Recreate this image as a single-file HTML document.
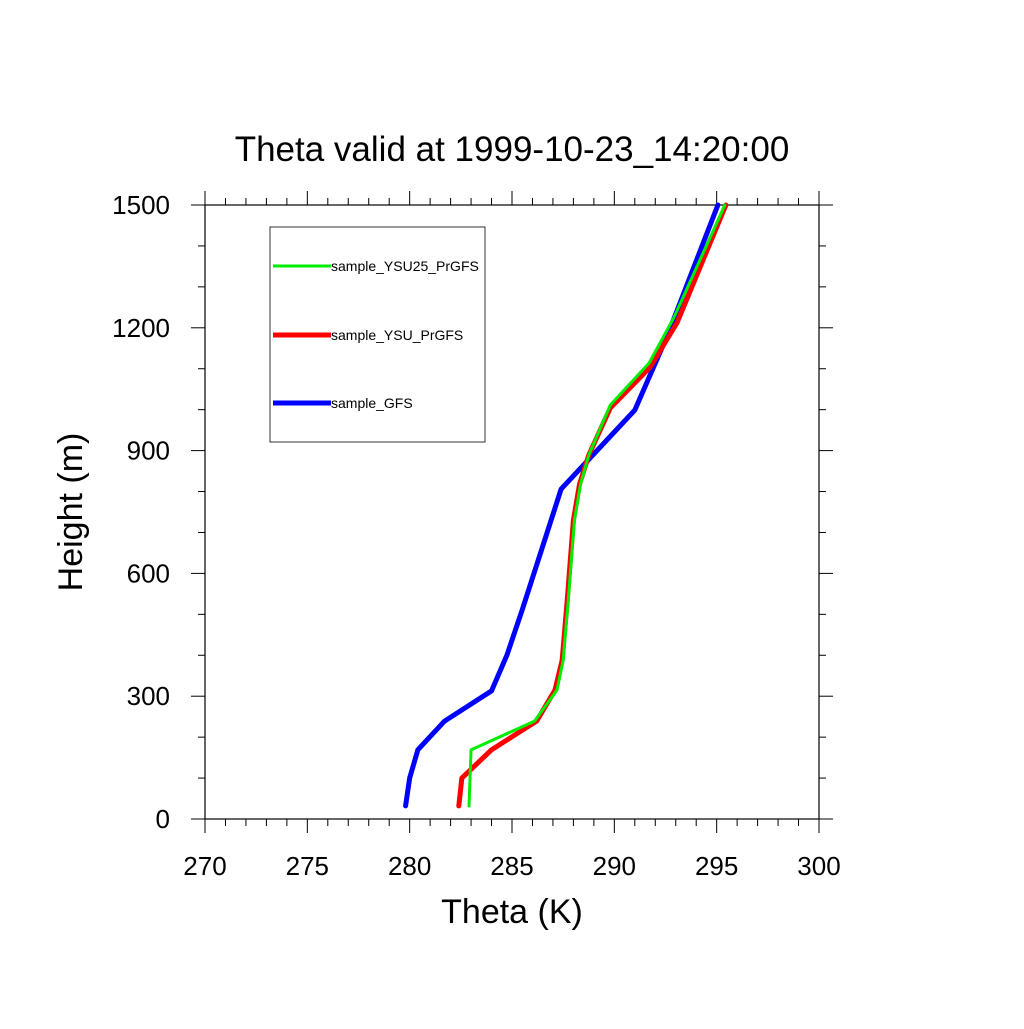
<!DOCTYPE html>
<html><head><meta charset="utf-8"><style>body{margin:0;background:#fff}svg text{font-family:"Liberation Sans",sans-serif}</style></head>
<body>
<svg id="c" width="1024" height="1024" xmlns="http://www.w3.org/2000/svg">
<text x="512" y="161" font-size="35" text-anchor="middle">Theta valid at 1999-10-23_14:20:00</text>
<rect x="205" y="205" width="614" height="614" fill="none" stroke="#000" stroke-width="1.2"/>
<g id="ticks"></g>
<g id="series"></g>
<text x="512" y="923" font-size="34" text-anchor="middle">Theta (K)</text>
<text transform="translate(82,512) rotate(-90)" font-size="34" text-anchor="middle">Height (m)</text>
<g>
<rect x="270" y="227" width="215" height="215" fill="#fff" stroke="#000" stroke-width="0.8"/>
<line x1="273" y1="266" x2="331" y2="266" stroke="#00ee00" stroke-width="3"/>
<text x="331" y="271" font-size="14">sample_YSU25_PrGFS</text>
<line x1="273" y1="335" x2="331" y2="335" stroke="#ff0000" stroke-width="5"/>
<text x="331" y="340" font-size="14">sample_YSU_PrGFS</text>
<line x1="273" y1="403" x2="331" y2="403" stroke="#0000ff" stroke-width="5"/>
<text x="331" y="408" font-size="14">sample_GFS</text>
</g>
</svg>
<script>
const xTicks=[270,275,280,285,290,295,300];
const yTicks=[0,300,600,900,1200,1500];
const gfsT=[279.8,280.0,280.4,281.7,284.0,284.75,285.5,287.4,291.0,292.6,295.06];
const gfsH=[32,100,169,239,313,400,511,806,999,1182,1500];
const ysuT=[282.4,282.55,284.0,286.2,287.1,287.45,287.7,288.0,288.3,288.75,289.8,291.75,293.06,295.45];
const ysuH=[32,100,169,239,315,388,535,730,818,889,1004,1104,1212,1500];
const ysu25T=[282.9,283.0,286.1,287.2,287.5,287.75,288.05,288.35,288.75,289.8,291.7,292.9,295.4];
const ysu25H=[32,169,239,315,388,535,730,818,889,1011,1114,1224,1500];
const NS="http://www.w3.org/2000/svg";
const sx=v=>205+(v-270)/30*614, sy=v=>819-v/1500*614;
const tg=document.getElementById('ticks');
function mk(t,a,p){const e=document.createElementNS(NS,t);for(const k in a)e.setAttribute(k,a[k]);p.appendChild(e);return e;}
for(let v=270;v<=300;v+=1){const x=sx(v);const maj=v%5===0;const l=maj?14:7;
const a=mk('line',{x1:x,x2:x,y1:819,y2:819+l,stroke:'#000','stroke-width':1},tg);


const b=mk('line',{x1:x,x2:x,y1:205,y2:205-l,stroke:'#000','stroke-width':1},tg);

}
xTicks.forEach(v=>{const t=mk('text',{x:sx(v),y:875,'font-size':26,'text-anchor':'middle'},tg);t.textContent=v;

});
for(let v=0;v<=1500;v+=100){const y=sy(v);const maj=v%300===0;const l=maj?14:7;
const a=mk('line',{x1:205,x2:205-l,y1:y,y2:y,stroke:'#000','stroke-width':1},tg);


const b=mk('line',{x1:819,x2:819+l,y1:y,y2:y,stroke:'#000','stroke-width':1},tg);

}
yTicks.forEach(v=>{const t=mk('text',{x:170,y:sy(v)+9,'font-size':26,'text-anchor':'end'},tg);t.textContent=v;

});
const sg=document.getElementById('series');
function line(T,H,col,w,name){const p=mk('polyline',{points:T.map((t,i)=>sx(t)+','+sy(H[i])).join(' '),fill:'none',stroke:col,'stroke-width':w,'stroke-linejoin':'round','stroke-linecap':'round'},sg);

}
line(gfsT,gfsH,'#0000ff',5,'line-gfs');
line(ysuT,ysuH,'#ff0000',5,'line-ysu');
line(ysu25T,ysu25H,'#00ee00',3,'line-ysu25');
</script>
</body></html>
